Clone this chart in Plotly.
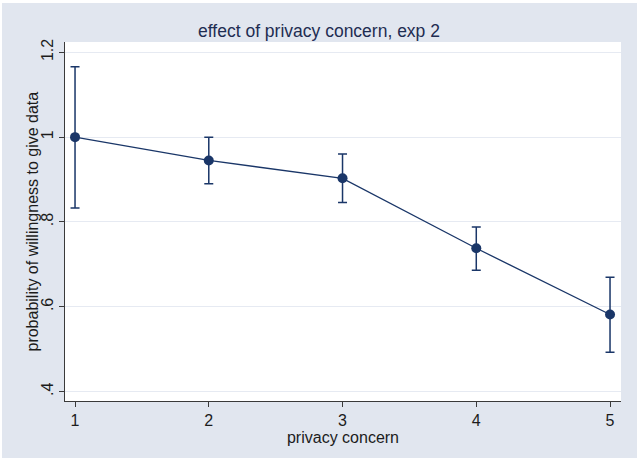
import plotly.graph_objects as go

# Mean probability of willingness to give data by privacy concern level, with 95% CIs
concern = [1, 2, 3, 4, 5]
prob = [1.0, 0.945, 0.903, 0.738, 0.582]
ci_low = [0.833, 0.890, 0.846, 0.686, 0.493]
ci_high = [1.166, 1.0, 0.960, 0.788, 0.670]

y_ticks = [0.4, 0.6, 0.8, 1.0, 1.2]
y_ticklabels = [".4", ".6", ".8", "1", "1.2"]

NAVY = "#1a3668"
BG = "#e1e6ef"
AXIS = "#3a3a3a"
TEXT = "#1c1c1c"
FONT = "Liberation Sans, Arial, sans-serif"

err_plus = [h - m for h, m in zip(ci_high, prob)]
err_minus = [m - l for m, l in zip(prob, ci_low)]

fig = go.Figure()
fig.add_trace(go.Scatter(
    x=concern, y=prob,
    mode="lines+markers",
    line=dict(color=NAVY, width=1.3),
    marker=dict(color=NAVY, size=10),
    error_y=dict(type="data", array=err_plus, arrayminus=err_minus,
                 color=NAVY, thickness=1.5, width=4.5, visible=True),
    showlegend=False,
))

L, R, T, B = 65, 16, 42, 59
W, H = 637, 460
pw, ph = W - L - R, H - T - B

fig.update_layout(
    width=W, height=H,
    margin=dict(l=L, r=R, t=T, b=B, pad=0),
    paper_bgcolor="white",
    plot_bgcolor="white",
    font=dict(family=FONT, size=16, color=TEXT),
    title=dict(text="effect of privacy concern, exp 2",
               x=319 / W, xref="container", xanchor="center",
               y=1 - 31 / H, yref="container", yanchor="middle",
               font=dict(family=FONT, size=17.5, color="#1e2d52")),
    shapes=[
        # graph region background
        dict(type="rect", xref="paper", yref="paper", layer="below",
             x0=(2 - L) / pw, x1=(W - L) / pw,
             y0=(T + ph - 458) / ph, y1=(T + ph - 3) / ph,
             fillcolor=BG, line=dict(width=0)),
        # plot region
        dict(type="rect", xref="paper", yref="paper", layer="below",
             x0=0, x1=1, y0=0, y1=1,
             fillcolor="white", line=dict(width=0)),
    ],
    annotations=[
        # y-axis title
        dict(text="probability of willingness to give data",
             xref="paper", yref="paper",
             x=(32 - L) / pw, y=0.5, xanchor="center", yanchor="middle",
             textangle=-90, showarrow=False,
             font=dict(family=FONT, size=16, color=TEXT)),
    ],
)

fig.update_xaxes(
    range=[0.925, 5.082],
    tickvals=concern, ticktext=[str(c) for c in concern],
    showgrid=False, zeroline=False,
    showline=True, linecolor=AXIS, linewidth=1,
    ticks="outside", ticklen=5, tickcolor=AXIS, tickwidth=1,
    tickfont=dict(size=16, color=TEXT),
    title=dict(text="privacy concern", standoff=2,
               font=dict(size=16, color=TEXT)),
)
fig.update_yaxes(
    range=[0.378, 1.2243],
    tickvals=y_ticks, ticktext=y_ticklabels, tickangle=-90,
    showgrid=True, gridcolor="#e6eaf2", gridwidth=1,
    zeroline=False,
    showline=True, linecolor=AXIS, linewidth=1,
    ticks="outside", ticklen=5, tickcolor=AXIS, tickwidth=1,
    tickfont=dict(size=16, color=TEXT),
)

fig.write_html("out.html")
